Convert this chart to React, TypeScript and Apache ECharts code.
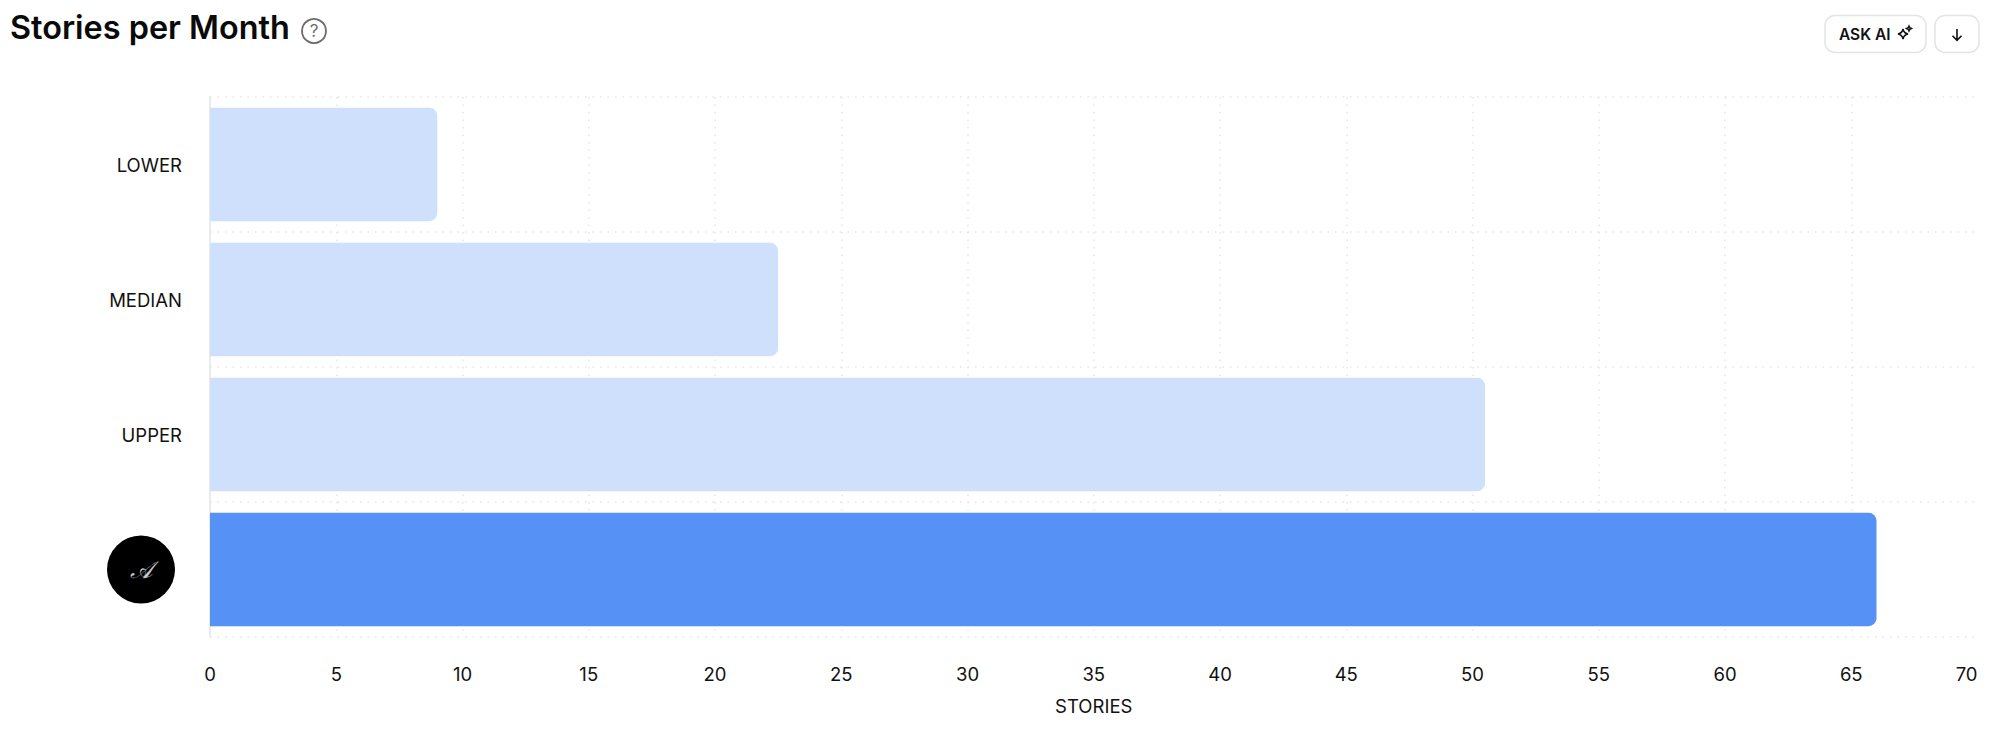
import React, { useEffect, useRef } from 'react';
import * as echarts from 'echarts';

const categories = ['LOWER', 'MEDIAN', 'UPPER', 'YOU'];
const storyValues = [9, 22.5, 50.5, 66];
const barColors = ['#CFE0FC', '#CFE0FC', '#CFE0FC', '#5691F5'];
const avatarLetter = '\u{1D49C}';

const FONT = 'Inter, sans-serif';

echarts.graphic.registerShape(
  'sparkleIcon',
  echarts.graphic.extendPath(
    'M6 3 C6.6 6.2 7.8 7.4 11 8 C7.8 8.6 6.6 9.8 6 13 C5.4 9.8 4.2 8.6 1 8 C4.2 7.4 5.4 6.2 6 3 Z M12 0 L12.8 1.7 L14.5 2.5 L12.8 3.3 L12 5 L11.2 3.3 L9.5 2.5 L11.2 1.7 Z',
    {},
  ),
);
echarts.graphic.registerShape(
  'arrowDownIcon',
  echarts.graphic.extendPath('M6 0 L6 11 M1.5 6.8 L6 11.3 L10.5 6.8', {}),
);

const App: React.FC = () => {
  const chartRef = useRef<HTMLDivElement>(null);

  useEffect(() => {
    if (!chartRef.current) return;
    document.body.style.margin = '0';

    const chart = echarts.init(chartRef.current, undefined, { renderer: 'svg' });

    const option: echarts.EChartsOption = {
      animation: false,
      backgroundColor: '#ffffff',
      textStyle: { fontFamily: FONT },
      grid: { left: 210, right: 22.5, top: 97, bottom: 98 },
      xAxis: {
        type: 'value',
        min: 0,
        max: 70,
        interval: 5,
        name: 'STORIES',
        nameLocation: 'middle',
        nameGap: 59,
        nameTextStyle: { color: '#111111', fontSize: 18.5, fontFamily: FONT },
        axisLine: { show: false },
        axisTick: { show: false },
        axisLabel: {
          color: '#111111',
          fontSize: 18.5,
          fontFamily: FONT,
          margin: 27,
          alignMaxLabel: 'right',
        },
        splitLine: {
          show: true,
          showMinLine: false,
          showMaxLine: false,
          lineStyle: { color: '#E3E5E8', width: 1.5, type: [1.5, 6] },
        },
      },
      yAxis: {
        type: 'category',
        inverse: true,
        data: categories,
        axisLine: { show: true, lineStyle: { color: '#E3E5E8', width: 1.5 } },
        axisTick: { show: false },
        splitLine: {
          show: true,
          lineStyle: { color: '#E3E5E8', width: 1.5, type: [1.5, 6] },
        },
        axisLabel: {
          color: '#111111',
          fontSize: 18.5,
          fontFamily: FONT,
          margin: 28,
          formatter: (value: string) =>
            value === 'YOU' ? `{avatar|${avatarLetter}}{gap| }` : value,
          rich: {
            avatar: {
              backgroundColor: '#000000',
              borderRadius: 34,
              width: 68,
              height: 68,
              lineHeight: 68,
              align: 'center',
              color: '#C8C8C8',
              fontSize: 24,
              fontStyle: 'italic',
              fontFamily: '"DejaVu Serif", "DejaVu Sans", serif',
            },
            gap: { width: 7, fontSize: 1 },
          },
        },
      },
      series: [
        {
          type: 'bar',
          barCategoryGap: '16%',
          data: storyValues.map((value, i) => ({
            value,
            itemStyle: { color: barColors[i] },
          })),
          itemStyle: { borderRadius: [0, 8, 8, 0] },
        },
      ],
      graphic: [
        {
          type: 'text',
          x: 10,
          y: 27,
          style: {
            text: 'Stories per Month',
            fontFamily: FONT,
            fontSize: 32.4,
            fontWeight: 600,
            fill: '#0A0A0A',
            textVerticalAlign: 'middle',
          },
        },
        {
          type: 'circle',
          shape: { cx: 314, cy: 31, r: 12 },
          style: { fill: 'none', stroke: '#6B6B6B', lineWidth: 1.8 },
        },
        {
          type: 'text',
          x: 314,
          y: 31,
          style: {
            text: '?',
            fontFamily: FONT,
            fontSize: 17,
            fill: '#6B6B6B',
            textAlign: 'center',
            textVerticalAlign: 'middle',
          },
        },
        {
          type: 'rect',
          shape: { x: 1825, y: 15.5, width: 101, height: 37, r: 10 },
          style: { fill: '#ffffff', stroke: '#E4E4E7', lineWidth: 1.5 },
        },
        {
          type: 'text',
          x: 1839,
          y: 34.5,
          style: {
            text: 'ASK AI',
            fontFamily: FONT,
            fontSize: 15.5,
            fontWeight: 600,
            fill: '#111111',
            textVerticalAlign: 'middle',
          },
        },
        {
          type: 'sparkleIcon',
          x: 1897,
          y: 26,
          style: { fill: 'none', stroke: '#111111', lineWidth: 1.5 },
        },
        {
          type: 'rect',
          shape: { x: 1935, y: 15.5, width: 44, height: 37, r: 10 },
          style: { fill: '#ffffff', stroke: '#E4E4E7', lineWidth: 1.5 },
        },
        {
          type: 'arrowDownIcon',
          x: 1951,
          y: 29,
          style: { fill: 'none', stroke: '#111111', lineWidth: 1.6 },
        },
      ],
    };

    chart.setOption(option);

    return () => {
      chart.dispose();
    };
  }, []);

  return <div ref={chartRef} style={{ width: 2000, height: 735 }} />;
};

export default App;
